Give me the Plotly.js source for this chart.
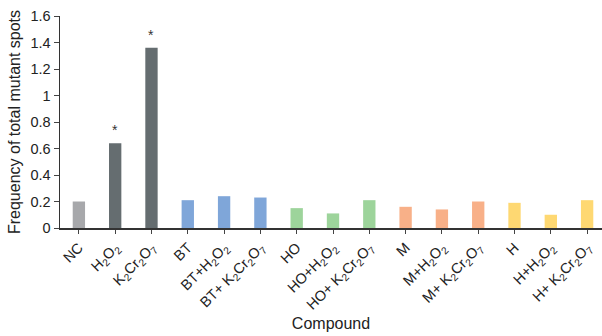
<!DOCTYPE html>
<html>
<head>
<meta charset="utf-8">
<script src="https://cdn.plot.ly/plotly-3.0.1.min.js"></script>
<style>html,body{margin:0;padding:0;background:#fff;}#chart{width:602px;height:336px;}</style>
</head>
<body>
<div id="chart"></div>
<script>
const categories = ["NC","H<sub>2</sub>O<sub>2</sub>","K<sub>2</sub>Cr<sub>2</sub>O<sub>7</sub>","BT","BT+H<sub>2</sub>O<sub>2</sub>","BT+ K<sub>2</sub>Cr<sub>2</sub>O<sub>7</sub>","HO","HO+H<sub>2</sub>O<sub>2</sub>","HO+ K<sub>2</sub>Cr<sub>2</sub>O<sub>7</sub>","M","M+H<sub>2</sub>O<sub>2</sub>","M+ K<sub>2</sub>Cr<sub>2</sub>O<sub>7</sub>","H","H+H<sub>2</sub>O<sub>2</sub>","H+ K<sub>2</sub>Cr<sub>2</sub>O<sub>7</sub>"];
const values = [0.20,0.64,1.36,0.21,0.24,0.23,0.15,0.11,0.21,0.16,0.14,0.20,0.19,0.10,0.21];
const barColors = ["#a7a8ab","#656d70","#656d70","#7fa6d9","#7fa6d9","#7fa6d9","#9dd49b","#9dd49b","#9dd49b","#f8b088","#f8b088","#f8b088","#fed872","#fed872","#fed872"];
const significant = [false,true,true,false,false,false,false,false,false,false,false,false,false,false,false];
const yTicks = [0,0.2,0.4,0.6,0.8,1,1.2,1.4,1.6];

const idx = categories.map((_, i) => i);
const font = "Liberation Sans, Arial, sans-serif";
const annotations = idx.filter(i => significant[i]).map(i => ({
  x: i, y: values[i], xref: "x", yref: "y", text: "*", showarrow: false,
  yshift: 13, font: {family: font, size: 14, color: "#333"}
}));

Plotly.newPlot("chart", [{
  type: "bar", x: idx, y: values, width: 0.34,
  marker: {color: barColors, line: {width: 0}},
  hoverinfo: "none"
}], {
  width: 602, height: 336,
  margin: {l: 60, r: 0, t: 16, b: 108},
  paper_bgcolor: "#fff", plot_bgcolor: "#fff",
  font: {family: font, size: 14, color: "#222"},
  showlegend: false,
  annotations: annotations,
  xaxis: {
    range: [-0.52, 14.41], tickmode: "array", tickvals: idx, ticktext: categories,
    tickangle: -45, ticks: "outside", ticklen: 4, tickcolor: "#444",
    showline: true, linecolor: "#333", linewidth: 1.5, showgrid: false, zeroline: false,
    tickfont: {size: 14.5, color: "#222"},
    title: {text: "Compound", font: {size: 16, color: "#222"}, standoff: 4}
  },
  yaxis: {
    range: [0, 1.6], tickmode: "array", tickvals: yTicks,
    ticks: "outside", ticklen: 5, tickcolor: "#444",
    showline: true, linecolor: "#333", linewidth: 1.5, showgrid: false, zeroline: false,
    tickfont: {size: 14.5, color: "#222"},
    title: {text: "Frequency of total mutant spots", font: {size: 16, color: "#222"}, standoff: 6}
  }
}, {staticPlot: true, displayModeBar: false});
</script>
</body>
</html>
